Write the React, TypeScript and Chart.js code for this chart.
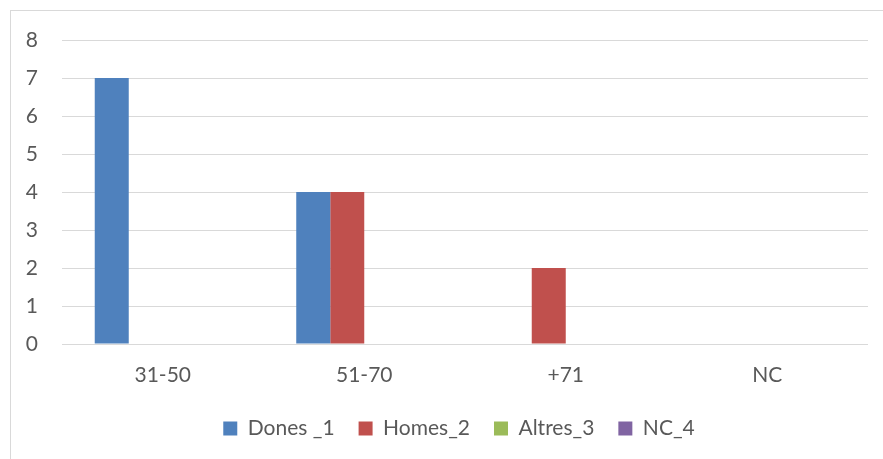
import React, { useEffect, useRef } from "react";
import { Chart, registerables } from "chart.js";

Chart.register(...registerables);

const categories = ["31-50", "51-70", "+71", "NC"];
const seriesNames = ["Dones _1", "Homes_2", "Altres_3", "NC_4"];
const dones = [7, 4, 0, 0];
const homes = [0, 4, 2, 0];
const altres = [0, 0, 0, 0];
const nc = [0, 0, 0, 0];
const yTicks = [0, 1, 2, 3, 4, 5, 6, 7, 8];
const colors = ["#4F81BD", "#C0504D", "#9BBB59", "#8064A2"];

const legendShift = {
  id: "legendShift",
  afterLayout(chart: any) {
    const lg = chart.legend;
    if (lg) {
      lg.left += 20;
      lg.right += 20;
    }
  },
};

export default function App() {
  const ref = useRef<HTMLCanvasElement | null>(null);
  useEffect(() => {
    if (!ref.current) return;
    const font = { family: "Lato, 'Open Sans', sans-serif", size: 21 };
    const values = [dones, homes, altres, nc];
    const chart = new Chart(ref.current, {
      type: "bar",
      data: {
        labels: categories,
        datasets: seriesNames.map((name, i) => ({
          label: name,
          data: values[i],
          backgroundColor: colors[i],
          borderWidth: 0,
          categoryPercentage: 0.675,
          barPercentage: 1,
        })),
      },
      options: {
        animation: false,
        responsive: false,
        maintainAspectRatio: false,
        layout: { padding: { left: 10, right: 15, top: 40, bottom: 10 } },
        plugins: {
          tooltip: { enabled: false },
          legend: {
            position: "bottom",
            labels: {
              font,
              color: "#595959",
              boxWidth: 14,
              boxHeight: 14,
              padding: 24,
            },
          },
        },
        scales: {
          x: {
            grid: { display: false, drawTicks: false },
            border: { display: false },
            ticks: { font, color: "#595959", padding: 19 },
            afterFit: (s: any) => {
              s.height = 50;
            },
          },
          y: {
            min: 0,
            max: 8,
            afterBuildTicks: (s: any) => {
              s.ticks = yTicks.map((v) => ({ value: v }));
            },
            grid: { color: "#d9d9d9", lineWidth: 1, drawTicks: false },
            border: { display: false },
            ticks: { font, color: "#595959", padding: 24, stepSize: 1 },
            afterFit: (s: any) => {
              s.width = 52;
            },
          },
        },
      },
      plugins: [legendShift],
    });
    return () => chart.destroy();
  }, []);
  return (
    <div
      style={{
        position: "fixed",
        left: 0,
        top: 0,
        width: 883,
        height: 459,
        overflow: "hidden",
        background: "#fff",
      }}
    >
      <div
        style={{
          position: "absolute",
          left: 10,
          top: 10,
          width: 950,
          height: 550,
          border: "1px solid #d9d9d9",
          boxSizing: "border-box",
        }}
      />
      <canvas
        ref={ref}
        width={883}
        height={459}
        style={{ position: "absolute", left: 0, top: 0, width: 883, height: 459 }}
      />
    </div>
  );
}
